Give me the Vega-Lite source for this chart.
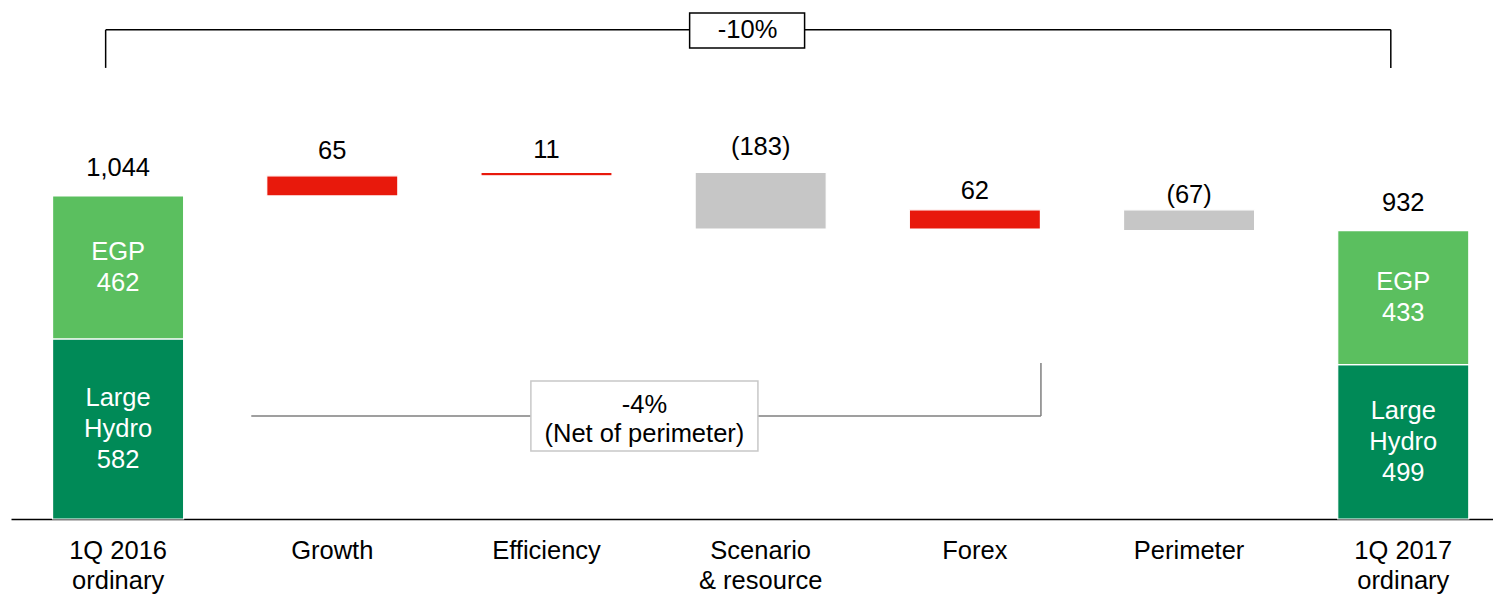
{
  "$schema": "https://vega.github.io/schema/vega-lite/v6.json",
  "width": 1482,
  "height": 519,
  "autosize": {"type": "none"},
  "padding": {"left": 11, "top": 0, "right": 0, "bottom": 75},
  "background": "white",
  "config": {"view": {"stroke": null}, "font": "Liberation Sans", "text": {"font": "Liberation Sans", "fontSize": 25.5}},
  "datasets": {
    "bars": [
      {"cat": "1Q 2016|ordinary", "start": 0, "end": 582, "kind": "Large Hydro", "seg": "Large\nHydro\n582"},
      {"cat": "1Q 2016|ordinary", "start": 582, "end": 1044, "kind": "EGP", "seg": "EGP\n462", "total": "1,044"},
      {"cat": "Growth", "start": 1044, "end": 1109, "kind": "pos", "change": "65"},
      {"cat": "Efficiency", "start": 1109, "end": 1120, "kind": "pos", "change": "11"},
      {"cat": "Scenario|& resource", "start": 1120, "end": 937, "kind": "neg", "change": "(183)"},
      {"cat": "Forex", "start": 937, "end": 999, "kind": "pos", "change": "62"},
      {"cat": "Perimeter", "start": 999, "end": 932, "kind": "neg", "change": "(67)"},
      {"cat": "1Q 2017|ordinary", "start": 0, "end": 499, "kind": "Large Hydro", "seg": "Large\nHydro\n499"},
      {"cat": "1Q 2017|ordinary", "start": 499, "end": 932, "kind": "EGP", "seg": "EGP\n433", "total": "932"}
    ]
  },
  "layer": [
    {
      "data": {"name": "bars"},
      "mark": {"type": "bar", "stroke": "white", "strokeWidth": 1.2},
      "encoding": {
        "x": {"field": "cat", "type": "nominal", "title": null,
          "scale": {"type": "band", "domain": ["1Q 2016|ordinary", "Growth", "Efficiency", "Scenario|& resource", "Forex", "Perimeter", "1Q 2017|ordinary"], "paddingInner": 0.388, "paddingOuter": 0.1535, "align": 0.632},
          "axis": {"labelExpr": "split(datum.label, '|')", "labelFont": "Liberation Sans", "labelFontSize": 25.5, "labelLineHeight": 30, "labelColor": "black", "labelAngle": 0, "labelPadding": 19, "labelOverlap": false, "labelLimit": 0, "labelFlush": false, "ticks": false, "domainColor": "black", "domainWidth": 1.5, "grid": false}},
        "y": {"field": "start", "type": "quantitative", "scale": {"domain": [0, 1677], "nice": false, "zero": true}, "axis": null},
        "y2": {"field": "end"},
        "color": {"field": "kind", "type": "nominal", "legend": null,
          "scale": {"domain": ["Large Hydro", "EGP", "pos", "neg"], "range": ["#008A57", "#5BBF5F", "#E8190C", "#C6C6C6"]}}
      }
    },
    {
      "data": {"name": "bars"},
      "transform": [{"filter": "datum.kind === 'EGP'"}, {"calculate": "(datum.start + datum.end) / 2", "as": "mid"}],
      "mark": {"type": "text", "color": "white", "lineBreak": "\n", "lineHeight": 31, "baseline": "middle", "align": "center", "dy": -15.5},
      "encoding": {
        "x": {"field": "cat", "type": "nominal", "title": null},
        "y": {"field": "mid", "type": "quantitative", "scale": {"domain": [0, 1677], "nice": false}, "axis": null},
        "text": {"field": "seg"}
      }
    },
    {
      "data": {"name": "bars"},
      "transform": [{"filter": "datum.kind === 'Large Hydro'"}, {"calculate": "(datum.start + datum.end) / 2", "as": "mid"}],
      "mark": {"type": "text", "color": "white", "lineBreak": "\n", "lineHeight": 31, "baseline": "middle", "align": "center", "dy": -31},
      "encoding": {
        "x": {"field": "cat", "type": "nominal", "title": null},
        "y": {"field": "mid", "type": "quantitative", "scale": {"domain": [0, 1677], "nice": false}, "axis": null},
        "text": {"field": "seg"}
      }
    },
    {
      "data": {"name": "bars"},
      "transform": [{"filter": "datum.total"}],
      "mark": {"type": "text", "color": "black", "baseline": "middle", "align": "center", "dy": -28},
      "encoding": {
        "x": {"field": "cat", "type": "nominal", "title": null},
        "y": {"field": "end", "type": "quantitative", "scale": {"domain": [0, 1677], "nice": false}, "axis": null},
        "text": {"field": "total"}
      }
    },
    {
      "data": {"name": "bars"},
      "transform": [{"filter": "datum.cat === 'Growth' || datum.cat === 'Scenario|& resource'"}, {"calculate": "max(datum.start, datum.end)", "as": "top"}],
      "mark": {"type": "text", "color": "black", "baseline": "middle", "align": "center", "dy": -25},
      "encoding": {
        "x": {"field": "cat", "type": "nominal", "title": null},
        "y": {"field": "top", "type": "quantitative", "scale": {"domain": [0, 1677], "nice": false}, "axis": null},
        "text": {"field": "change"}
      }
    },
    {
      "data": {"name": "bars"},
      "transform": [{"filter": "datum.cat === 'Efficiency'"}, {"calculate": "max(datum.start, datum.end)", "as": "top"}],
      "mark": {"type": "text", "color": "black", "baseline": "middle", "align": "center", "dy": -22.5},
      "encoding": {
        "x": {"field": "cat", "type": "nominal", "title": null},
        "y": {"field": "top", "type": "quantitative", "scale": {"domain": [0, 1677], "nice": false}, "axis": null},
        "text": {"field": "change"}
      }
    },
    {
      "data": {"name": "bars"},
      "transform": [{"filter": "datum.cat === 'Forex'"}, {"calculate": "max(datum.start, datum.end)", "as": "top"}],
      "mark": {"type": "text", "color": "black", "baseline": "middle", "align": "center", "dy": -19},
      "encoding": {
        "x": {"field": "cat", "type": "nominal", "title": null},
        "y": {"field": "top", "type": "quantitative", "scale": {"domain": [0, 1677], "nice": false}, "axis": null},
        "text": {"field": "change"}
      }
    },
    {
      "data": {"name": "bars"},
      "transform": [{"filter": "datum.cat === 'Perimeter'"}, {"calculate": "max(datum.start, datum.end)", "as": "top"}],
      "mark": {"type": "text", "color": "black", "baseline": "middle", "align": "center", "dy": -15},
      "encoding": {
        "x": {"field": "cat", "type": "nominal", "title": null},
        "y": {"field": "top", "type": "quantitative", "scale": {"domain": [0, 1677], "nice": false}, "axis": null},
        "text": {"field": "change"}
      }
    },
    {
      "data": {"values": [{"cat": "1Q 2016|ordinary", "cat2": "1Q 2017|ordinary", "y": 1580.5}]},
      "mark": {"type": "rule", "color": "black", "strokeWidth": 1.5},
      "encoding": {
        "x": {"field": "cat", "type": "nominal", "title": null, "bandPosition": 0.405},
        "x2": {"field": "cat2", "bandPosition": 0.405},
        "y": {"field": "y", "type": "quantitative", "scale": {"domain": [0, 1677], "nice": false}, "axis": null}
      }
    },
    {
      "data": {"values": [{"cat": "1Q 2016|ordinary", "y": 1580.5, "y2": 1457.6}, {"cat": "1Q 2017|ordinary", "y": 1580.5, "y2": 1457.6}]},
      "mark": {"type": "rule", "color": "black", "strokeWidth": 1.5},
      "encoding": {
        "x": {"field": "cat", "type": "nominal", "title": null, "bandPosition": 0.405},
        "y": {"field": "y", "type": "quantitative", "scale": {"domain": [0, 1677], "nice": false}, "axis": null},
        "y2": {"field": "y2"}
      }
    },
    {
      "data": {"values": [{"cat": "Growth", "cat2": "Forex", "y": 332.9}]},
      "mark": {"type": "rule", "color": "#7F7F7F", "strokeWidth": 1.5},
      "encoding": {
        "x": {"field": "cat", "type": "nominal", "title": null, "bandPosition": -0.118},
        "x2": {"field": "cat2", "bandPosition": 1.004},
        "y": {"field": "y", "type": "quantitative", "scale": {"domain": [0, 1677], "nice": false}, "axis": null}
      }
    },
    {
      "data": {"values": [{"cat": "Forex", "y": 504.2, "y2": 332.9}]},
      "mark": {"type": "rule", "color": "#7F7F7F", "strokeWidth": 1.5},
      "encoding": {
        "x": {"field": "cat", "type": "nominal", "title": null, "bandPosition": 1.004},
        "y": {"field": "y", "type": "quantitative", "scale": {"domain": [0, 1677], "nice": false}, "axis": null},
        "y2": {"field": "y2"}
      }
    },
    {
      "data": {"values": [{"cat": "Scenario|& resource", "cat2": "Scenario|& resource", "y": 1635, "y2": 1522}]},
      "mark": {"type": "rect", "fill": "white", "stroke": "black", "strokeWidth": 1.5},
      "encoding": {
        "x": {"field": "cat", "type": "nominal", "title": null, "bandPosition": -0.042},
        "x2": {"field": "cat2", "bandPosition": 0.835},
        "y": {"field": "y", "type": "quantitative", "scale": {"domain": [0, 1677], "nice": false}, "axis": null},
        "y2": {"field": "y2"}
      }
    },
    {
      "data": {"values": [{"cat": "Efficiency", "cat2": "Scenario|& resource", "y": 446, "y2": 220}]},
      "mark": {"type": "rect", "fill": "white", "stroke": "#C8C8C8", "strokeWidth": 1.5},
      "encoding": {
        "x": {"field": "cat", "type": "nominal", "title": null, "bandPosition": 0.381},
        "x2": {"field": "cat2", "bandPosition": 0.479},
        "y": {"field": "y", "type": "quantitative", "scale": {"domain": [0, 1677], "nice": false}, "axis": null},
        "y2": {"field": "y2"}
      }
    },
    {
      "data": {"values": [{"cat": "Scenario|& resource", "y": 1580, "t": "-10%"}]},
      "mark": {"type": "text", "color": "black", "baseline": "middle", "align": "center"},
      "encoding": {
        "x": {"field": "cat", "type": "nominal", "title": null, "bandPosition": 0.40},
        "y": {"field": "y", "type": "quantitative", "scale": {"domain": [0, 1677], "nice": false}, "axis": null},
        "text": {"field": "t"}
      }
    },
    {
      "data": {"values": [{"cat": "Efficiency", "y": 324.8, "t": "-4%\n(Net of perimeter)"}]},
      "mark": {"type": "text", "color": "black", "baseline": "middle", "align": "center", "lineBreak": "\n", "lineHeight": 29, "dy": -13},
      "encoding": {
        "x": {"field": "cat", "type": "nominal", "title": null, "bandPosition": 1.247},
        "y": {"field": "y", "type": "quantitative", "scale": {"domain": [0, 1677], "nice": false}, "axis": null},
        "text": {"field": "t"}
      }
    }
  ]
}
